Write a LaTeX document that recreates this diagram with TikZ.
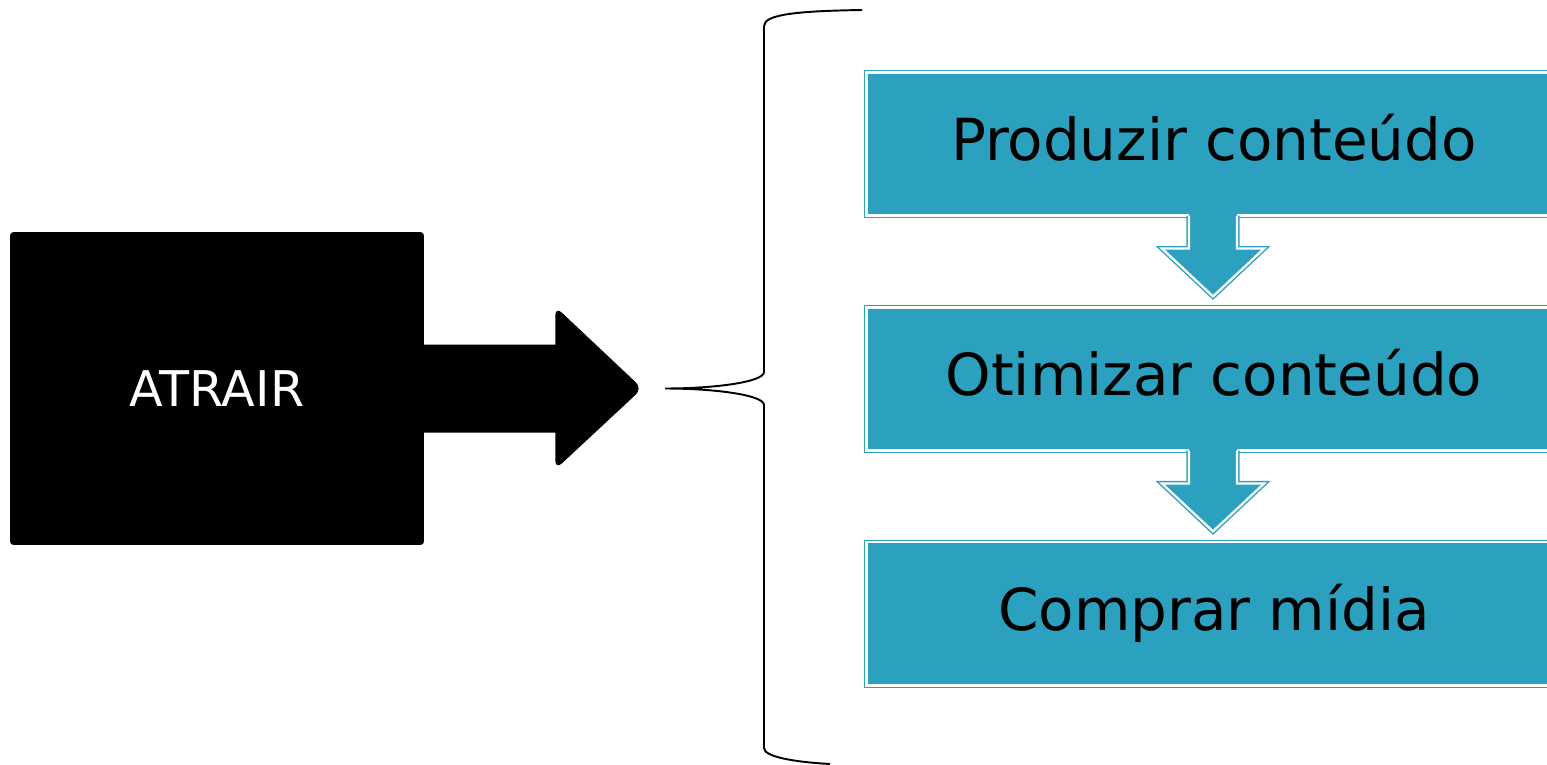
\documentclass[tikz,border=0pt]{standalone}
\usepackage{fontspec}
\setmainfont{DejaVu Sans}
\usetikzlibrary{positioning, calc}
\definecolor{stepblue}{RGB}{44,161,191}

\begin{document}
\begin{tikzpicture}[
    x=0.02cm, y=-0.02cm,
    stepbox/.style={rectangle, fill=stepblue, draw=stepblue, line width=0.8pt, double=white, double distance=1.3pt, minimum width=13.9cm, minimum height=2.864cm, outer sep=0pt, text height=24pt, text depth=4.7pt, font=\fontsize{33pt}{39pt}\selectfont},
    bigbox/.style={rectangle, fill=black, rounded corners=2pt, minimum width=8.28cm, minimum height=6.26cm, text=white, font=\fontsize{28pt}{32pt}\selectfont},
    downfill/.style={fill=stepblue},
    downline/.style={draw=stepblue, line width=0.8pt, double=white, double distance=1.3pt},
    brace/.style={line width=1.1pt}
]

\useasboundingbox (0,0) rectangle (1547,764);

\node[bigbox] (atrair) at (217,388.5) {ATRAIR};
\fill ($(atrair.east)+(-2,-44)$) -- ($(atrair.east)+(131,-44)$) [rounded corners=5pt] -- ($(atrair.east)+(131,-82)$) -- ($(atrair.east)+(218,0)$) -- ($(atrair.east)+(131,81)$) [sharp corners] -- ($(atrair.east)+(131,44)$) -- ($(atrair.east)+(-2,44)$) -- cycle;

\coordinate (tip) at (665,388.5);
\draw[brace] (862,10) .. controls (800,11) and (764,14) .. (764,26) -- (764,372) .. controls (764,382) and (715,388.5) .. (tip) .. controls (715,388.5) and (764,395) .. (764,405) -- (764,748) .. controls (764,757) and (795,762) .. (830,764);

\node[stepbox] (p1) at (1214,144) {Produzir conteúdo};
\node[stepbox, below=1.836cm of p1] (p2) {Otimizar conteúdo};
\node[stepbox, below=1.836cm of p2] (p3) {Comprar mídia};

\foreach \a/\b in {p1/p2, p2/p3} {
  \fill[downfill] ($(\a.south)+(-25,-6)$) -- ($(\a.south)+(-25,33)$) -- ($(\a.south)+(-52,33)$) -- ($(\b.north)+(-1,-11)$) -- ($(\a.south)+(50,33)$) -- ($(\a.south)+(23,33)$) -- ($(\a.south)+(23,-6)$) -- cycle;
  \draw[downline] ($(\a.south)+(-25,0)$) -- ($(\a.south)+(-25,33)$) -- ($(\a.south)+(-52,33)$) -- ($(\b.north)+(-1,-11)$) -- ($(\a.south)+(50,33)$) -- ($(\a.south)+(23,33)$) -- ($(\a.south)+(23,0)$);
}

\end{tikzpicture}
\end{document}
